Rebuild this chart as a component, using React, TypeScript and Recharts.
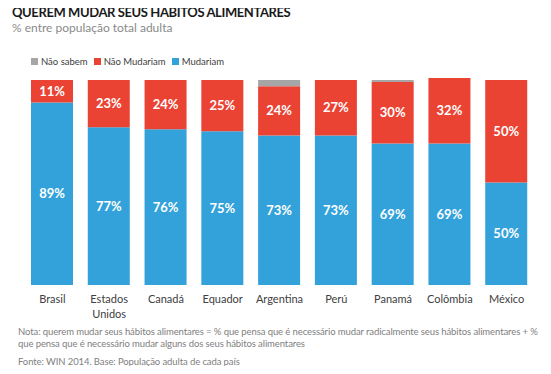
import { BarChart, Bar, XAxis, YAxis, LabelList } from "recharts";

const countries = ["Brasil", "Estados Unidos", "Canadá", "Equador", "Argentina", "Perú", "Panamá", "Colômbia", "México"];
const mudariam = [89, 77, 76, 75, 73, 73, 69, 69, 50];
const naoMudariam = [11, 23, 24, 25, 24, 27, 30, 32, 50];
const naoSabem = [0, 0, 0, 0, 3, 0, 1, 0, 0];

const data = countries.map((c, i) => ({
  country: c,
  mudariam: mudariam[i],
  naoMudariam: naoMudariam[i],
  naoSabem: naoSabem[i],
}));

const BLUE = "#33A2DA";
const RED = "#EA4334";
const GRAY = "#A6A6A6";
const FONT = "Lato, 'Open Sans', sans-serif";

const pct = (v: any) => `${v}%`;

function CountryTick(props: any) {
  const { x, y, payload } = props;
  const words = payload.value === "Estados Unidos" ? ["Estados", "Unidos"] : [payload.value];
  return (
    <text x={x} y={y + 10} textAnchor="middle" fill="#404040" fontSize={11} fontFamily={FONT}>
      {words.map((w: string, i: number) => (
        <tspan key={i} x={x} dy={i === 0 ? 0 : 15}>
          {w}
        </tspan>
      ))}
    </text>
  );
}

const legendItems = [
  { label: "Não sabem", color: GRAY },
  { label: "Não Mudariam", color: RED },
  { label: "Mudariam", color: BLUE },
];

export default function App() {
  return (
    <div style={{ position: "relative", width: 551, height: 374, background: "#fff", fontFamily: FONT, margin: -8, overflow: "hidden" }}>
      <div style={{ position: "absolute", left: 12, top: 4, fontSize: 13, fontWeight: 700, color: "#1a1a1a", letterSpacing: -0.4, whiteSpace: "nowrap" }}>
        QUEREM MUDAR SEUS HÁBITOS ALIMENTARES
      </div>
      <div style={{ position: "absolute", left: 12, top: 20, fontSize: 12, color: "#8a8a8a" }}>
        % entre população total adulta
      </div>
      <div style={{ position: "absolute", left: 31, top: 56, display: "flex", fontSize: 9.5, color: "#404040" }}>
        {legendItems.map((it) => (
          <div key={it.label} style={{ display: "flex", alignItems: "center", marginRight: 6 }}>
            <span style={{ width: 7, height: 7, background: it.color, display: "inline-block", marginRight: 3 }} />
            {it.label}
          </div>
        ))}
      </div>
      <div style={{ position: "absolute", top: 0, left: 0 }}>
        <BarChart width={551} height={374} data={data} margin={{ top: 78, right: 16, left: 24, bottom: 59 }}>
          <XAxis dataKey="country" axisLine={false} tickLine={false} interval={0} height={30} tick={<CountryTick />} />
          <YAxis hide domain={[0, 101]} allowDataOverflow />
          <Bar dataKey="mudariam" stackId="a" fill={BLUE} barSize={42} isAnimationActive={false}>
            <LabelList dataKey="mudariam" position="center" fill="#fff" fontSize={13} fontWeight={700} fontFamily={FONT} formatter={pct} />
          </Bar>
          <Bar dataKey="naoMudariam" stackId="a" fill={RED} barSize={42} isAnimationActive={false}>
            <LabelList dataKey="naoMudariam" position="center" fill="#fff" fontSize={13} fontWeight={700} fontFamily={FONT} formatter={pct} />
          </Bar>
          <Bar dataKey="naoSabem" stackId="a" fill={GRAY} barSize={42} isAnimationActive={false} />
        </BarChart>
      </div>
      <div style={{ position: "absolute", left: 18, top: 326, width: 530, fontSize: 9.5, lineHeight: "12px", color: "#808080", letterSpacing: -0.1, whiteSpace: "nowrap" }}>
        Nota: querem mudar seus hábitos alimentares = % que pensa que é necessário mudar radicalmente seus hábitos alimentares + %
        <br />
        que pensa que é necessário mudar alguns dos seus hábitos alimentares
      </div>
      <div style={{ position: "absolute", left: 18, top: 356, fontSize: 9.5, lineHeight: "12px", color: "#808080", letterSpacing: -0.1 }}>
        Fonte: WIN 2014. Base: População adulta de cada país
      </div>
    </div>
  );
}
